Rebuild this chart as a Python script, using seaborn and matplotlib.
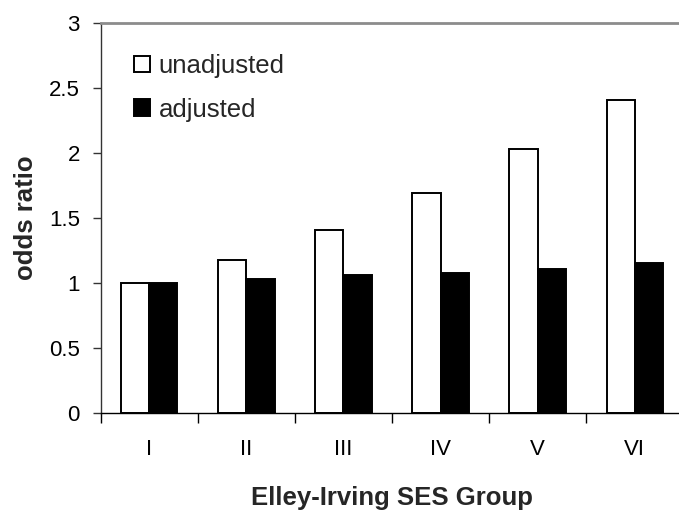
import matplotlib
matplotlib.use("Agg")
import matplotlib.pyplot as plt
import seaborn as sns
import pandas as pd

# Odds ratios by Elley-Irving socio-economic group
groups = ["I", "II", "III", "IV", "V", "VI"]
unadjusted = [1.00, 1.18, 1.41, 1.69, 2.03, 2.41]
adjusted = [1.00, 1.03, 1.06, 1.08, 1.11, 1.15]
series_names = ["unadjusted", "adjusted"]
y_ticks = [0, 0.5, 1, 1.5, 2, 2.5, 3]
y_tick_labels = ["0", "0.5", "1", "1.5", "2", "2.5", "3"]

df = pd.DataFrame({
    "group": groups * 2,
    "odds": unadjusted + adjusted,
    "series": [series_names[0]] * len(groups) + [series_names[1]] * len(groups),
})

sns.set_theme(style="white")
plt.rcParams["font.family"] = ["Liberation Sans", "DejaVu Sans"]

W, H = 679, 513
fig = plt.figure(figsize=(W / 100, H / 100), dpi=100)
left_px, right_px = 100.7, 683.3
top_px, bottom_px = 23.3, 412.7
ax = fig.add_axes([left_px / W, 1 - bottom_px / H,
                   (right_px - left_px) / W, (bottom_px - top_px) / H])

sns.barplot(data=df, x="group", y="odds", hue="series", order=groups,
            hue_order=series_names, palette=["white", "black"],
            edgecolor="black", linewidth=1.4, width=0.58, ax=ax)

ax.set_xlim(-0.5, len(groups) - 0.5)
ax.set_ylim(0, 3)
ax.set_yticks(y_ticks)
ax.set_yticklabels(y_tick_labels)

# category labels at centres, tick marks on the category boundaries
ax.set_xticks(range(len(groups)))
ax.set_xticklabels(groups)
ax.set_xticks([i - 0.5 for i in range(len(groups) + 1)], minor=True)
ax.tick_params(axis="x", which="major", length=0, pad=19, labelsize=16,
               colors="black")
ax.tick_params(axis="x", which="minor", bottom=True, length=7, width=1,
               direction="out", color="black")
ax.tick_params(axis="y", which="major", left=True, length=6, width=1,
               direction="out", pad=9, labelsize=16, color="#333333",
               labelcolor="black")

for side in ["left", "bottom", "top", "right"]:
    ax.spines[side].set_visible(True)
ax.spines["left"].set_color("#333333")
ax.spines["left"].set_linewidth(1.0)
ax.spines["bottom"].set_color("black")
ax.spines["bottom"].set_linewidth(1.0)
ax.spines["top"].set_color("#8c8c8c")
ax.spines["top"].set_linewidth(2.0)
ax.spines["right"].set_visible(False)

ax.set_xlabel("Elley-Irving SES Group", fontsize=18.5, fontweight="bold",
              labelpad=19)
ax.set_ylabel("odds ratio", fontsize=18.5, fontweight="bold", labelpad=8)

sns.move_legend(ax, "upper left", bbox_to_anchor=(124 / W, 1 - 44 / H),
                bbox_transform=fig.transFigure, frameon=False, title=None,
                fontsize=18.5, handlelength=0.6, handleheight=0.6,
                handletextpad=0.35, labelspacing=0.75, borderaxespad=0)

fig.savefig("out.png", dpi=100)
